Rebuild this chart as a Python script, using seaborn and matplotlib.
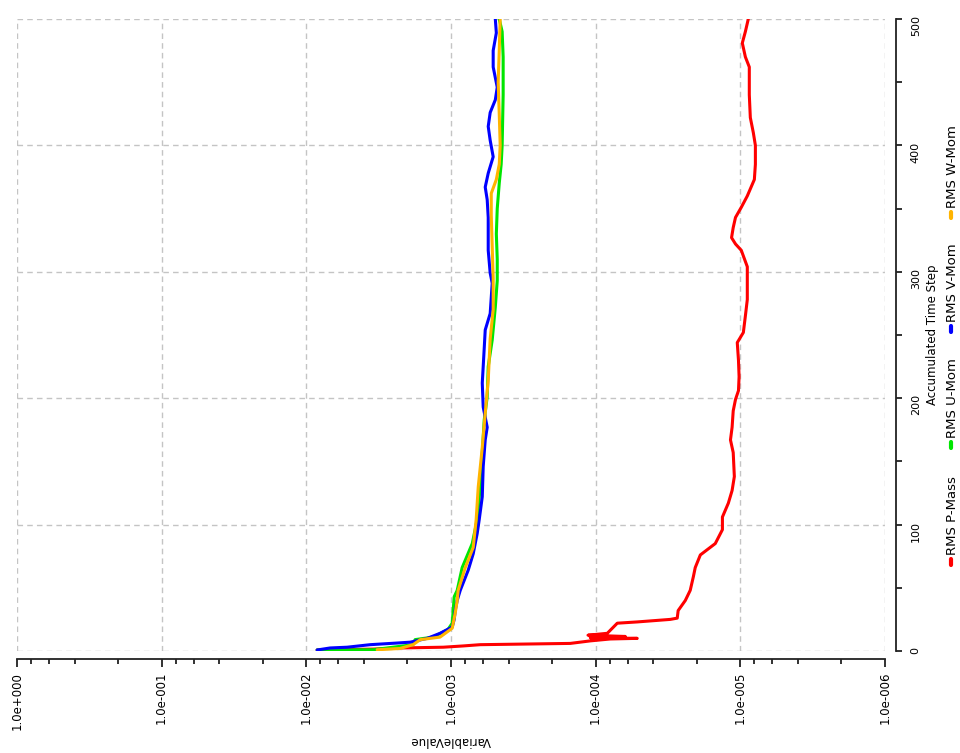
import matplotlib
matplotlib.use("Agg")
import math
import matplotlib.pyplot as plt
import seaborn as sns
import pandas as pd
from matplotlib.lines import Line2D
from matplotlib.ticker import LogLocator, MultipleLocator, FixedLocator, FuncFormatter, NullFormatter

# --- data --- #
series_names = ["RMS P-Mass", "RMS U-Mom", "RMS V-Mom", "RMS W-Mom"]
series_colors = ["#ff0000", "#00e600", "#0000ff", "#ffb400"]

pmass_step = [0.8, 1.5, 2.4, 3, 4, 5, 6, 8, 9.5, 10, 10.5, 11.5, 12.5, 14, 22, 23, 25, 26,
              32, 40, 48, 59, 66, 76, 85, 96, 106, 117, 127, 138, 157, 167, 177, 190, 199,
              206, 217, 230, 244, 252, 265, 278, 290, 304, 317, 322, 327, 335, 343, 351,
              360, 373, 385, 400, 410, 422, 440, 462, 470, 481, 490, 500]
pmass_val = [8.42e-3, 3.45e-3, 2.25e-3, 1.13e-3, 8.24e-4, 6.28e-4, 1.50e-4, 1.09e-4, 7.93e-5,
             5.16e-5, 1.09e-4, 6.24e-5, 1.13e-4, 8.31e-5, 7.09e-5, 5.16e-5, 3.05e-5, 2.73e-5,
             2.69e-5, 2.40e-5, 2.22e-5, 2.11e-5, 2.05e-5, 1.89e-5, 1.49e-5, 1.33e-5, 1.33e-5,
             1.21e-5, 1.14e-5, 1.10e-5, 1.12e-5, 1.17e-5, 1.14e-5, 1.12e-5, 1.08e-5,
             1.03e-5, 1.02e-5, 1.03e-5, 1.05e-5, 9.53e-6, 9.23e-6, 8.95e-6, 8.95e-6, 8.95e-6,
             9.85e-6, 1.08e-5, 1.15e-5, 1.12e-5, 1.08e-5, 9.85e-6, 8.95e-6, 8.00e-6, 7.87e-6,
             7.87e-6, 8.13e-6, 8.53e-6, 8.67e-6, 8.67e-6, 9.23e-6, 9.69e-6, 9.23e-6, 8.81e-6]

umom_step = [0.8, 1, 5, 9, 11, 17, 22, 32, 43, 48, 66, 85, 104, 130, 157, 183, 201, 225,
             246, 272, 293, 310, 330, 350, 370, 385, 400, 440, 470, 490, 500]
umom_val = [8.42e-3, 3.45e-3, 1.83e-3, 1.77e-3, 1.33e-3, 1.05e-3, 9.81e-4, 9.66e-4, 9.50e-4,
            9.06e-4, 8.37e-4, 7.13e-4, 6.59e-4, 6.28e-4, 6.08e-4, 5.89e-4, 5.62e-4, 5.53e-4,
            5.19e-4, 4.94e-4, 4.79e-4, 4.79e-4, 4.86e-4, 4.79e-4, 4.64e-4, 4.50e-4, 4.43e-4,
            4.36e-4, 4.36e-4, 4.43e-4, 4.64e-4]

vmom_step = [0.8, 2.4, 3, 5, 6.3, 7, 10, 14, 19, 25, 32, 40, 48, 64, 77, 93, 104, 122, 146,
             167, 177, 193, 212, 225, 240, 254, 267, 291, 299, 317, 343, 357, 367, 378, 391,
             404, 415, 426, 436, 446, 462, 475, 489, 500]
vmom_val = [8.42e-3, 6.85e-3, 5.22e-3, 3.62e-3, 2.36e-3, 1.91e-3, 1.46e-3, 1.19e-3, 9.81e-4,
            9.50e-4, 9.35e-4, 9.06e-4, 8.63e-4, 7.60e-4, 7.02e-4, 6.59e-4, 6.38e-4, 6.08e-4,
            5.99e-4, 5.80e-4, 5.62e-4, 5.99e-4, 6.08e-4, 5.99e-4, 5.89e-4, 5.80e-4, 5.36e-4,
            5.19e-4, 5.36e-4, 5.53e-4, 5.53e-4, 5.62e-4, 5.80e-4, 5.53e-4, 5.11e-4, 5.36e-4,
            5.53e-4, 5.36e-4, 4.94e-4, 4.79e-4, 5.11e-4, 5.11e-4, 4.86e-4, 4.94e-4]

wmom_step = [1, 2, 5, 9, 11, 18, 30, 40, 48, 66, 82, 104, 130, 161, 188, 214, 247, 270, 295,
             320, 345, 362, 373, 385, 400, 425, 450, 475, 500]
wmom_val = [3.24e-3, 2.25e-3, 1.83e-3, 1.63e-3, 1.19e-3, 9.81e-4, 9.35e-4, 9.06e-4, 8.92e-4,
            7.97e-4, 7.02e-4, 6.70e-4, 6.48e-4, 6.08e-4, 5.80e-4, 5.53e-4, 5.36e-4, 5.11e-4,
            5.11e-4, 5.19e-4, 5.27e-4, 5.27e-4, 4.86e-4, 4.64e-4, 4.57e-4, 4.64e-4, 4.72e-4,
            4.64e-4, 4.57e-4]

# --- long-form table for seaborn --- #
frames = []
for name, steps, vals in zip(series_names,
                             [pmass_step, umom_step, vmom_step, wmom_step],
                             [pmass_val, umom_val, vmom_val, wmom_val]):
	frames.append(pd.DataFrame({"step": steps, "value": vals, "series": name}))
df = pd.concat(frames, ignore_index=True)

# --- figure --- #
W, H = 960, 753
sns.set_style("white")
plt.rcParams["font.family"] = ["DejaVu Sans"]
plt.rcParams["text.color"] = "black"
plt.rcParams["axes.labelcolor"] = "black"
plt.rcParams["xtick.color"] = "black"
plt.rcParams["ytick.color"] = "black"
fig = plt.figure(figsize=(W / 100, H / 100), dpi=100)
ax = fig.add_axes([17 / W, 1 - 651 / H, (885 - 17) / W, (651 - 19) / H])

sns.lineplot(data=df, x="value", y="step", hue="series", hue_order=series_names,
             palette=dict(zip(series_names, series_colors)), sort=False, estimator=None,
             linewidth=2.2, legend=False, ax=ax)

ax.set_xscale("log")
ax.set_xlim(1, 1e-6)
ax.set_ylim(0, 500)

## ticks
def sci_fmt(v, pos):
	e = int(round(math.log10(v)))
	return f"1.0e{'+' if e >= 0 else '-'}{abs(e):03d}"

ax.xaxis.set_major_locator(FixedLocator([10.0 ** -k for k in range(7)]))
ax.xaxis.set_minor_locator(LogLocator(base=10, subs=[2, 4, 6, 8], numticks=20))
ax.xaxis.set_major_formatter(FuncFormatter(sci_fmt))
ax.xaxis.set_minor_formatter(NullFormatter())
ax.yaxis.set_major_locator(MultipleLocator(100))
ax.yaxis.set_minor_locator(MultipleLocator(50))
ax.yaxis.tick_right()
ax.yaxis.set_label_position("right")

ax.tick_params(axis="x", which="both", bottom=True, top=False, direction="out", color="#222222", width=1.3)
ax.tick_params(axis="x", which="major", length=6, labelrotation=90, labelsize=8.5, pad=3)
ax.tick_params(axis="x", which="minor", length=3.8)
ax.tick_params(axis="y", which="both", right=True, left=False, direction="out", length=4.5,
               width=1.3, labelrotation=90, labelsize=8, pad=6, color="#222222")

## spines
for side in ["top", "left"]:
	ax.spines[side].set_visible(False)
ax.spines["right"].set_position(("outward", 8))
ax.spines["bottom"].set_position(("outward", 6))
for side in ["right", "bottom"]:
	ax.spines[side].set_linewidth(1.3)
	ax.spines[side].set_color("#222222")

## grid
ax.grid(True, which="major", linestyle=(0, (4, 3)), color="#c4c4c4", linewidth=1)

## labels
ax.set_xlabel("VariableValue", rotation=180, fontsize=8.5, labelpad=3)
ax.set_ylabel("Accumulated Time Step", rotation=90, fontsize=8.5, labelpad=4)

## legend built by hand (rotated like the rest of the chart)
leg_y = [565, 448, 332, 218]
for name, col, py in zip(series_names, series_colors, leg_y):
	fig.add_artist(Line2D([951 / W, 951 / W], [1 - py / H, 1 - (py - 6) / H],
	                      color=col, linewidth=3, transform=fig.transFigure))
	fig.text(953 / W, 1 - (py - 10) / H, name, rotation=90, ha="center", va="bottom",
	         fontsize=9.5)

plt.savefig("out.png", dpi=100)
plt.close()
